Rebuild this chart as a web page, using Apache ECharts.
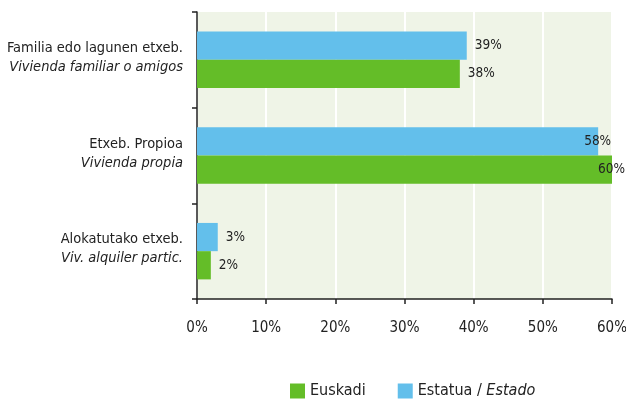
<!DOCTYPE html>
<html>
<head>
<meta charset="utf-8">
<script src="https://cdn.jsdelivr.net/npm/echarts@6/dist/echarts.min.js"></script>
<style>
  html, body { margin: 0; padding: 0; background: #fff; }
  #chart { width: 626px; height: 400px; }
</style>
</head>
<body>
<div id="chart"></div>
<script>
const FONT = '"Liberation Sans Narrow", "DejaVu Sans Condensed", sans-serif';

// datos
const categories = [
  ['Familia edo lagunen etxeb.', 'Vivienda familiar o amigos'],
  ['Etxeb. Propioa', 'Vivienda propia'],
  ['Alokatutako etxeb.', 'Viv. alquiler partic.']
];
const estatua = [39, 58, 3];
const euskadi = [38, 60, 2];
const xTicks = [0, 10, 20, 30, 40, 50, 60];

// labels near the right edge are pulled back over the bar end
function barData(values) {
  return values.map(v => v >= 55
    ? { value: v, label: { offset: [-22, 0] } }
    : v);
}

const chart = echarts.init(document.getElementById('chart'));

chart.setOption({
  animation: false,
  textStyle: { fontFamily: FONT },
  grid: {
    left: 197, right: 14, top: 12, bottom: 101,
    outerBoundsMode: 'none',
    show: true, backgroundColor: '#eff4e7', borderWidth: 0
  },
  legend: {
    left: 290, top: 383, padding: 0,
    itemWidth: 15, itemHeight: 15, itemGap: 32,
    icon: 'rect',
    data: ['Euskadi', 'Estatua / Estado'],
    formatter: name => name === 'Estatua / Estado'
      ? '{n|Estatua / }{i|Estado}' : '{n|' + name + '}',
    textStyle: {
      rich: {
        n: { fontFamily: FONT, fontSize: 16, color: '#222' },
        i: { fontFamily: FONT, fontSize: 16, color: '#222', fontStyle: 'italic' }
      }
    }
  },
  xAxis: {
    type: 'value',
    min: xTicks[0], max: xTicks[xTicks.length - 1], interval: 10,
    axisLine: { show: true, lineStyle: { color: '#222', width: 1.5 } },
    axisTick: { show: true, length: 5, lineStyle: { color: '#222', width: 1.5 } },
    splitLine: { show: true, lineStyle: { color: '#ffffff', width: 2 } },
    axisLabel: {
      formatter: '{value}%', margin: 22,
      fontFamily: FONT, fontSize: 15, color: '#222'
    }
  },
  yAxis: {
    type: 'category',
    inverse: true,
    data: categories.map(c => c[0]),
    axisLine: { show: true, lineStyle: { color: '#222', width: 1.5 } },
    axisTick: { show: true, length: 5, lineStyle: { color: '#222', width: 1.5 } },
    axisLabel: {
      margin: 14, align: 'right', padding: [0, 0, 4, 0],
      formatter: (v, i) => '{a|' + categories[i][0] + '}\n{b|' + categories[i][1] + '}',
      rich: {
        a: { fontFamily: FONT, fontSize: 14.5, color: '#222', lineHeight: 19, align: 'right' },
        b: { fontFamily: FONT, fontSize: 14.5, color: '#222', lineHeight: 19, align: 'right', fontStyle: 'italic' }
      }
    }
  },
  series: [
    {
      name: 'Estatua / Estado',
      type: 'bar',
      data: barData(estatua),
      barGap: '0%',
      barCategoryGap: '41%',
      itemStyle: { color: '#63bfeb' },
      label: {
        show: true, position: 'right', distance: 8,
        formatter: '{c}%', fontFamily: FONT, fontSize: 13.5, color: '#222'
      }
    },
    {
      name: 'Euskadi',
      type: 'bar',
      data: barData(euskadi),
      barGap: '0%',
      barCategoryGap: '41%',
      itemStyle: { color: '#64bd28' },
      label: {
        show: true, position: 'right', distance: 8,
        formatter: '{c}%', fontFamily: FONT, fontSize: 13.5, color: '#222'
      }
    }
  ]
});
</script>
</body>
</html>
